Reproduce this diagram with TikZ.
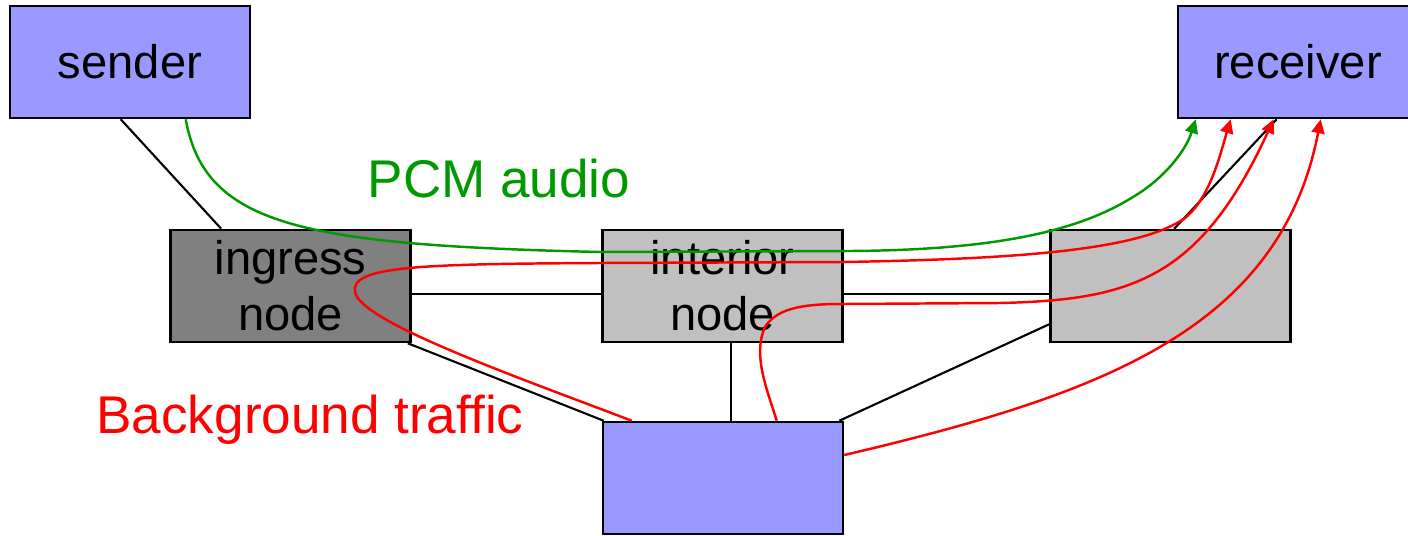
\documentclass[tikz,border=0pt]{standalone}
\usepackage{fontspec}
\setmainfont{Liberation Sans}
\usetikzlibrary{arrows.meta,calc}
\definecolor{boxblue}{HTML}{9999FF}
\definecolor{darkbox}{HTML}{808080}
\definecolor{lightbox}{HTML}{C0C0C0}
\definecolor{pcmgreen}{HTML}{009900}
\begin{document}
\begin{tikzpicture}[x=0.01cm,y=-0.01cm,
  netbox/.style={draw=black, line width=0.7pt, minimum width=2.4cm, minimum height=1.12cm,
    inner sep=0pt, align=center, font=\fontsize{13.4}{15.9}\selectfont},
  link/.style={black, line width=0.6pt},
  flowred/.style={red, line width=0.7pt},
  flowgreen/.style={pcmgreen, line width=0.7pt},
  tip/.style={-{Triangle[length=1.4mm,width=1.3mm]}},
  lbl/.style={font=\fontsize{15.1}{18}\selectfont, inner sep=0pt, anchor=base}]
\useasboundingbox (0,0) rectangle (1408,536);
\clip (0,0) rectangle (1408,536);

% boxes
\node[netbox, fill=boxblue] (sender) at (130,62) {sender};
\node[netbox, fill=boxblue] (receiver) at (1298,62) {receiver};
\node[netbox, fill=darkbox] (ingress) at (290.5,286) {ingress\\node};
\node[netbox, fill=lightbox] (interior) at (722.5,286) {interior\\node};
\node[netbox, fill=lightbox] (egress) at (1170.5,286) {};
\node[netbox, fill=boxblue] (bottom) at (723,478) {};

% links
\draw[link] ($(sender.south west)+(112,0)$) -- ($(ingress.north west)+(52,0)$);
\draw[link] ($(ingress.east)+(0,8)$) -- ($(interior.west)+(0,8)$);
\draw[link] ($(interior.east)+(0,8)$) -- ($(egress.west)+(0,8)$);
\draw[link] ($(egress.north west)+(125,0)$) -- ($(receiver.south west)+(100,0)$);
\draw[link] ($(ingress.south east)+(-4,0)$) -- ($(bottom.north west)+(2,0)$);
\draw[link] ($(interior.south)+(8.5,0)$) -- ($(bottom.north)+(8,0)$);
\draw[link] ($(bottom.north east)+(-5,0)$) -- ($(egress.south west)+(0,-19)$);

% flow end points
\coordinate (gS) at ($(sender.south west)+(177,0)$);
\coordinate (gE) at ($(receiver.south west)+(19,0)$);
\coordinate (r1S) at ($(bottom.north west)+(30,0)$);
\coordinate (r1E) at ($(receiver.south west)+(54,0)$);
\coordinate (r2S) at ($(bottom.north west)+(175,0)$);
\coordinate (r2E) at ($(receiver.south west)+(97,0)$);
\coordinate (r3S) at ($(bottom.east)+(0,-23)$);
\coordinate (r3E) at ($(receiver.south west)+(144,0)$);

% flows
\draw[flowgreen, tip] (gS) .. controls (205,225) and (300,245) .. (600,252)
  -- (850,251) .. controls (1000,250) and (1080,230) .. (1133,197)
  .. controls (1165,178) and (1186,150) .. (gE);
\draw[flowred, tip] (r1S) .. controls (520,378) and (360,322) .. (355,292)
  .. controls (350,266) and (420,264) .. (600,263) -- (843,262)
  .. controls (1020,259) and (1140,250) .. (1185,218)
  .. controls (1210,198) and (1220,155) .. (r1E);
\draw[flowred, tip] (r2S) .. controls (768,392) and (752,355) .. (765,327)
  .. controls (778,306) and (810,304) .. (843,304) -- (1000,303)
  .. controls (1130,300) and (1200,280) .. (r2E);
\draw[flowred, tip] (r3S) .. controls (1100,395) and (1280,330) .. (r3E);

% labels
\node[lbl, text=pcmgreen] (pcm) at (499,197) {PCM audio};
\node[lbl, text=red] (bg) at (310,433) {Background traffic};
\end{tikzpicture}
\end{document}
